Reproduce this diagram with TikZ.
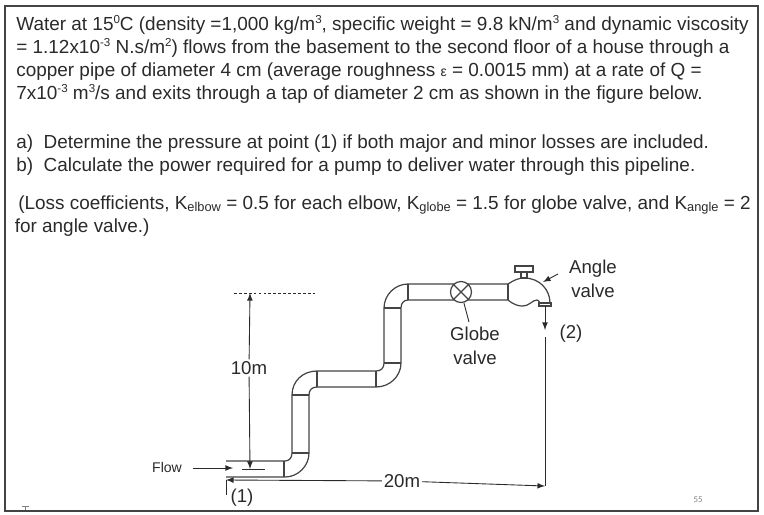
\documentclass[tikz,border=0pt]{standalone}
\usepackage{fontspec}
\setmainfont{Liberation Sans}
\newfontfamily\pagefont{Carlito}
\usepackage{xcolor}
\usetikzlibrary{arrows, positioning, calc}
\definecolor{inkgray}{HTML}{2A2A2A}
\definecolor{pipegray}{HTML}{444444}
\newcommand{\upidx}[1]{\raisebox{3.9pt}{\fontsize{6.6}{7}\selectfont #1}}
\newcommand{\dnidx}[1]{\raisebox{-1.6pt}{\fontsize{7.3}{8}\selectfont #1}}
\tikzset{
    bodytext/.style={inner sep=0pt, anchor=north west, align=left, text=inkgray, font=\fontsize{10.78}{13.05}\selectfont},
    figlabel/.style={inner sep=1pt, text=inkgray, align=center, font=\fontsize{10.6}{13.6}\selectfont},
    pipewall/.style={draw=pipegray, line width=0.7pt},
    dimline/.style={draw=inkgray, line width=0.5pt}
}

\begin{document}
\begin{tikzpicture}[x=0.02cm, y=-0.02cm, >=latex]
    \useasboundingbox (0,0) rectangle (764,514);
    \draw[draw=pipegray, line width=1pt] (5,6) rectangle (758,511);

    % problem statement
    \node[bodytext] (intro) at (16,15) {Water at 15\upidx{0}C (density =1,000 kg/m\upidx{3}, specific weight = 9.8 kN/m\upidx{3} and dynamic viscosity\\
        = 1.12x10\upidx{-3} N.s/m\upidx{2}) flows from the basement to the second floor of a house through a\\
        copper pipe of diameter 4 cm (average roughness {\footnotesize ε} = 0.0015 mm) at a rate of Q =\\
        7x10\upidx{-3} m\upidx{3}/s and exits through a tap of diameter 2 cm as shown in the figure below.};
    \node[bodytext] (parts) at (16,134) {a)\ \ Determine the pressure at point (1) if both major and minor losses are included.\\
        b)\ \ Calculate the power required for a pump to deliver water through this pipeline.};
    \node[bodytext] (coeff) at (18,195) {(Loss coefficients, K\dnidx{elbow} = 0.5 for each elbow, K\dnidx{globe} = 1.5 for globe valve, and K\dnidx{angle} = 2\\
        \hspace{-2pt}for angle valve.)};

    % pipe
    \draw[pipewall] (226,461) -- (285,461) .. controls (289,461) and (292,458) .. (292,453) -- (292,395)
        .. controls (292,381) and (303,371) .. (317,371) -- (376,371) .. controls (381,371) and (384,368) .. (384,363)
        -- (384,308) .. controls (384,295) and (395,284) .. (408,284) -- (508,284);
    \draw[pipewall] (226,477) -- (285,477) .. controls (298,477) and (309,466) .. (309,453) -- (309,395)
        .. controls (309,390) and (312,387) .. (317,387) -- (376,387) .. controls (390,387) and (401,376) .. (401,363)
        -- (401,308) .. controls (401,303) and (404,300) .. (408,300) -- (508,300);
    \draw[pipewall] (284,461) -- (284,477);
    \draw[pipewall] (292,453) -- (309,453);
    \draw[pipewall] (292,395) -- (309,395);
    \draw[pipewall] (317,371) -- (317,387);
    \draw[pipewall] (376,371) -- (376,387);
    \draw[pipewall] (384,363) -- (401,363);
    \draw[pipewall] (384,308) -- (401,308);
    \draw[pipewall] (408,284) -- (408,300);
    \draw[pipewall] (508,284) -- (508,300);

    % globe valve
    \node[circle, draw=pipegray, line width=0.7pt, fill=white, minimum size=0.42cm, inner sep=0pt] (globe) at (461,292) {};
    \draw[pipewall] (globe.45) -- (globe.225);
    \draw[pipewall] (globe.135) -- (globe.315);

    % angle valve
    \draw[pipewall] (508,284) .. controls (514,280) and (519,278) .. (524,278) .. controls (540,278) and (550,290) .. (550,303);
    \draw[pipewall] (508,300) .. controls (514,305) and (519,306) .. (522,306) .. controls (530,306) and (532,300) .. (537,300) .. controls (538,300) and (539,301) .. (540,303);
    \draw[pipewall] (539,303) rectangle (551,306);
    \draw[pipewall] (521,272) rectangle (527,278);
    \draw[pipewall] (515,266) rectangle (533,272);

    % labels
    \node[figlabel] (tenm) at (249,368) {10m};
    \node[figlabel] (twentym) at (402,481) {20m};
    \node[figlabel, font=\fontsize{8}{10}\selectfont] (flow) at (167,467) {Flow};
    \node[figlabel] (one) at (242,498) {(1)};
    \node[figlabel] (two) at (571,334) {(2)};
    \node[figlabel] (globelabel) at (475,346) {Globe\\valve};
    \node[figlabel] (anglelabel) at (593,279) {Angle\\valve};
    \node[inner sep=0pt, text=gray, font=\pagefont\fontsize{5}{6}\selectfont] (pageno) at (698,500) {55};

    % dimensions
    \coordinate (dashl) at (234,293);
    \coordinate (dashr) at (315,293);
    \coordinate (dimtop) at (250,293);
    \coordinate (dimbot) at (250,469);
    \coordinate (levell) at (242,469);
    \coordinate (levelr) at (265,469);
    \coordinate (flowfrom) at (193,468);
    \coordinate (flowtip) at (233,468);
    \coordinate (startl) at (226,480);
    \coordinate (endr) at (545,486);
    \coordinate (tickt) at (226,480);
    \coordinate (tickb) at (226,495);
    \coordinate (dropt) at (545,306);
    \coordinate (dropm) at (545,330);
    \coordinate (dropn) at (545,337);
    \coordinate (anglefrom) at (558,274);
    \coordinate (angletip) at (543,282);
    \coordinate (globefrom) at (469,322);

    \draw[dimline, dash pattern=on 1.6pt off 1.2pt] (dashl) -- (dashr);
    \draw[dimline, ->] (tenm) -- (dimtop);
    \draw[dimline, ->] (tenm) -- (dimbot);
    \draw[dimline] (levell) -- (levelr);
    \draw[dimline, ->] (flowfrom) -- (flowtip);
    \draw[dimline, ->] (twentym) -- (startl);
    \draw[dimline, ->] (twentym) -- (endr);
    \draw[dimline] (tickt) -- (tickb);
    \draw[dimline, ->] (dropt) -- (dropm);
    \draw[dimline] (dropn) -- (endr);
    \draw[dimline, ->] (anglefrom) -- (angletip);
    \draw[dimline] (globefrom) -- (globe);
    % smudge at the corner of the slide
    \draw[draw=gray, line width=0.5pt] (22,506) -- (29,506);
    \draw[draw=gray, line width=0.4pt] (25.5,506) -- (25.5,510);
\end{tikzpicture}
\end{document}
